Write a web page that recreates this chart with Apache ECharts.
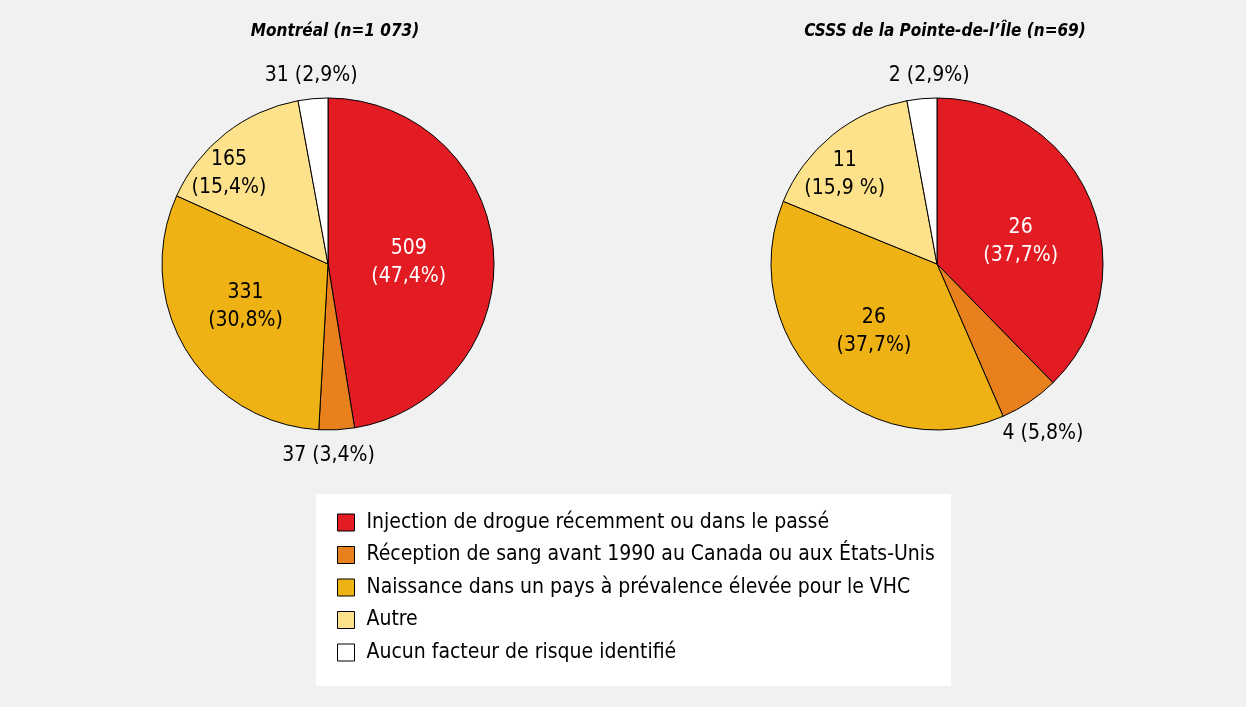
<!DOCTYPE html>
<html>
<head>
<meta charset="utf-8">
<script src="https://cdn.jsdelivr.net/npm/echarts@6/dist/echarts.min.js"></script>
<style>
  html, body { margin: 0; padding: 0; background: #f1f1f1; }
  #chart { width: 1246px; height: 707px; }
</style>
</head>
<body>
<div id="chart"></div>
<script>
const categories = [
  "Injection de drogue récemment ou dans le passé",
  "Réception de sang avant 1990 au Canada ou aux États-Unis",
  "Naissance dans un pays à prévalence élevée pour le VHC",
  "Autre",
  "Aucun facteur de risque identifié"
];
const colors = ["#e31b23", "#e8801e", "#efb214", "#fee28b", "#ffffff"];

const montrealCounts = [509, 37, 331, 165, 31];
const montrealPct = ["47,4%", "3,4%", "30,8%", "15,4%", "2,9%"];
const pointeCounts = [26, 4, 26, 11, 2];
const pointePct = ["37,7%", "5,8%", "37,7%", "15,9 %", "2,9%"];

// slices whose label sits outside the pie, on one line
const outsideLabel = [false, true, false, false, true];

// label nudges from the default inside position
const montrealShift = [[-5, 5], [-4, 106], [-9, -2], [-46, -23], [-9, -103]];
const pointeShift = [[4, 10], [58, 98], [-3, 6], [-38, -23], [0, -103]];

const font = "'Liberation Sans Narrow', 'DejaVu Sans Condensed', sans-serif";

function makePie(counts, pct, shift, cx) {
  return {
    type: "pie",
    center: [cx, 264],
    radius: 166,
    startAngle: 90,
    clockwise: true,
    animation: false,
    silent: true,
    itemStyle: { borderColor: "#000", borderWidth: 1 },
    label: {
      show: true,
      position: "inside",
      fontFamily: font,
      fontSize: 21,
      lineHeight: 28,
      color: "#000",
      formatter: (p) => outsideLabel[p.dataIndex]
        ? counts[p.dataIndex] + " (" + pct[p.dataIndex] + ")"
        : counts[p.dataIndex] + "\n(" + pct[p.dataIndex] + ")"
    },
    labelLine: { show: false },
    labelLayout: (p) => ({ dx: shift[p.dataIndex][0], dy: shift[p.dataIndex][1] }),
    data: categories.map((name, i) => ({
      name: name,
      value: counts[i],
      itemStyle: { color: colors[i] },
      label: i === 0 ? { color: "#fff" } : {}
    }))
  };
}

const titleStyle = { fontFamily: font, fontSize: 17, fontWeight: "bold", fontStyle: "italic", color: "#000" };

const chart = echarts.init(document.getElementById("chart"));
chart.setOption({
  backgroundColor: "#f1f1f1",
  title: [
    { text: "Montréal (n=1 073)", left: 330, top: 18, textAlign: "center", textStyle: titleStyle },
    { text: "CSSS de la Pointe-de-l’Île (n=69)", left: 940, top: 18, textAlign: "center", textStyle: titleStyle }
  ],
  legend: {
    orient: "vertical",
    left: 316,
    top: 494,
    backgroundColor: "#fff",
    padding: [18, 16, 23, 21],
    itemWidth: 17,
    itemHeight: 17,
    itemGap: 11.5,
    icon: "rect",
    selectedMode: false,
    itemStyle: { borderColor: "#000", borderWidth: 1 },
    textStyle: { fontFamily: font, fontSize: 21, color: "#000", padding: [0, 0, 0, 7] },
    data: categories
  },
  series: [
    makePie(montrealCounts, montrealPct, montrealShift, 328),
    makePie(pointeCounts, pointePct, pointeShift, 937)
  ]
});
</script>
</body>
</html>
